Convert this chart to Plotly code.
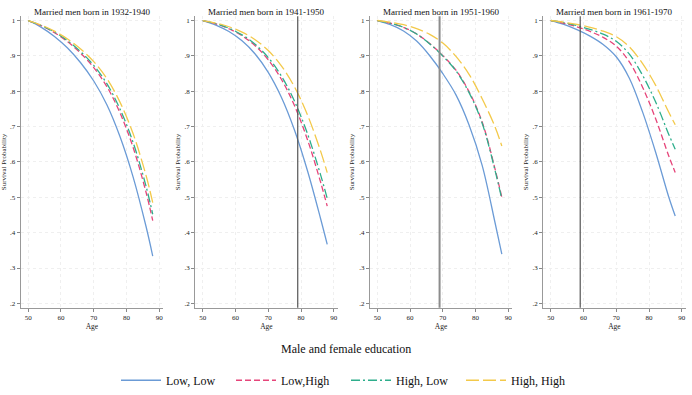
import plotly.graph_objects as go

ages = [50, 54, 58, 62, 66, 70, 74, 78, 82, 86, 88]
cohorts = ["1932-1940", "1941-1950", "1951-1960", "1961-1970"]
ref_ages = [None, 79, 69, 59]

series_names = ["Low, Low", "Low,High", "High, Low", "High, High"]
series_colors = ["#6b9bd6", "#e6457a", "#2eae8c", "#f3c94a"]
series_dash = ["solid", "6px,3px", "9px,3px,2px,3px", "13px,4px"]

low_low = [
    [1.0, 0.9806, 0.955, 0.9222, 0.8806, 0.829, 0.762, 0.672, 0.558, 0.416, 0.334],
    [1.0, 0.9872, 0.9688, 0.9425, 0.9053, 0.8535, 0.7831, 0.6904, 0.5744, 0.4388, 0.3671],
    [1.0, 0.9881, 0.9704, 0.9418, 0.9003, 0.8496, 0.7898, 0.7047, 0.5904, 0.4253, 0.3396],
    [1.0, 0.9891, 0.9743, 0.9560, 0.9324, 0.8976, 0.8369, 0.7423, 0.6282, 0.5016, 0.4471],
]
low_high = [
    [1.0, 0.9852, 0.9656, 0.9402, 0.9077, 0.8669, 0.8132, 0.7390, 0.6415, 0.5130, 0.4341],
    [1.0, 0.9905, 0.9767, 0.9569, 0.9287, 0.8890, 0.8339, 0.7594, 0.6623, 0.5422, 0.4750],
    [1.0, 0.9923, 0.9809, 0.9622, 0.9348, 0.9007, 0.8594, 0.7988, 0.7130, 0.5776, 0.4998],
    [1.0, 0.9923, 0.9821, 0.9691, 0.9523, 0.9274, 0.8832, 0.8122, 0.7228, 0.6178, 0.5701],
]
high_low = [
    [1.0, 0.9859, 0.9672, 0.9430, 0.9120, 0.8730, 0.8214, 0.7499, 0.6555, 0.5299, 0.4521],
    [1.0, 0.9911, 0.9781, 0.9595, 0.9329, 0.8953, 0.8431, 0.7722, 0.6791, 0.5627, 0.4969],
    [1.0, 0.9922, 0.9807, 0.9617, 0.9339, 0.8993, 0.8576, 0.7962, 0.7096, 0.5732, 0.4951],
    [1.0, 0.9938, 0.9855, 0.9750, 0.9615, 0.9411, 0.9048, 0.8458, 0.7700, 0.6786, 0.6361],
]
high_high = [
    [1.0, 0.9871, 0.9701, 0.9479, 0.9195, 0.8836, 0.8358, 0.7692, 0.6804, 0.5605, 0.4849],
    [1.0, 0.9928, 0.9824, 0.9673, 0.9457, 0.9150, 0.8718, 0.8124, 0.7326, 0.6299, 0.5700],
    [1.0, 0.9950, 0.9881, 0.9773, 0.9608, 0.9361, 0.8985, 0.8479, 0.7788, 0.6977, 0.6450],
    [1.0, 0.9952, 0.9888, 0.9807, 0.9701, 0.9542, 0.9256, 0.8787, 0.8173, 0.7412, 0.7051],
]
all_series = [low_low, low_high, high_low, high_high]

x_ticks = [50, 60, 70, 80, 90]
y_ticks = [0.2, 0.3, 0.4, 0.5, 0.6, 0.7, 0.8, 0.9, 1.0]
y_ticktext = [".2", ".3", ".4", ".5", ".6", ".7", ".8", ".9", "1"]

W, H = 692, 395
panel_left_px = [20.7, 195.2, 369.8, 543.2]
panel_w_px = 142.5
y_bottom_px, y_top_px = 310.0, 16.4
vline_styles = [None, dict(color="#555", width=1.2), dict(color="#8c8c8c", width=2), dict(color="#555", width=1.2)]

FONT = "Liberation Serif, Times New Roman, serif"

fig = go.Figure()
layout = dict(
    width=W, height=H,
    margin=dict(l=0, r=0, t=0, b=0),
    paper_bgcolor="white", plot_bgcolor="white",
    font=dict(family=FONT, color="#222"),
    showlegend=True,
    legend=dict(orientation="h", x=0.5, xanchor="center", y=0.03, yanchor="middle",
                font=dict(size=12, family=FONT, color="#111"),
                entrywidth=60, itemwidth=40, bgcolor="rgba(0,0,0,0)"),
)
annotations = []
shapes = []

for p in range(4):
    xa = "xaxis" if p == 0 else f"xaxis{p+1}"
    ya = "yaxis" if p == 0 else f"yaxis{p+1}"
    xr = "x" if p == 0 else f"x{p+1}"
    yr = "y" if p == 0 else f"y{p+1}"
    x0 = panel_left_px[p] / W
    x1 = (panel_left_px[p] + panel_w_px) / W
    layout[xa] = dict(
        domain=[x0, x1], range=[47.7, 91.2], anchor=yr,
        tickvals=x_ticks, ticks="outside", ticklen=3, tickcolor="#888",
        showline=True, linecolor="#999", linewidth=1,
        showgrid=True, gridcolor="#efefef", griddash="dot", gridwidth=1,
        zeroline=False, tickfont=dict(size=7, family=FONT, color="#222"),
        title=dict(text="Age", font=dict(size=7.5, family=FONT, color="#222"), standoff=2),
    )
    layout[ya] = dict(
        domain=[1 - y_bottom_px / H, 1 - y_top_px / H], range=[0.188, 1.012], anchor=xr,
        tickvals=y_ticks, ticktext=y_ticktext, ticks="outside", ticklen=3, tickcolor="#888",
        showline=True, linecolor="#999", linewidth=1,
        showgrid=True, gridcolor="#efefef", griddash="dot", gridwidth=1,
        zeroline=False, tickfont=dict(size=7, family=FONT, color="#222"),
        title=dict(text="Survival Probability", font=dict(size=7, family=FONT, color="#222"), standoff=3),
    )
    for s in range(4):
        fig.add_trace(go.Scatter(
            x=ages, y=all_series[s][p], mode="lines", name=series_names[s],
            line=dict(color=series_colors[s], dash=series_dash[s], width=1.3, shape="spline"),
            xaxis=xr, yaxis=yr, showlegend=(p == 0),
        ))
    annotations.append(dict(
        text=f"Married men born in {cohorts[p]}", x=(x0 + x1) / 2, y=1 - 12 / H,
        xref="paper", yref="paper", showarrow=False, xanchor="center", yanchor="middle",
        font=dict(size=9, family=FONT, color="#111"),
    ))
    if ref_ages[p] is not None:
        shapes.append(dict(type="line", xref=xr, yref=f"{yr} domain",
                           x0=ref_ages[p], x1=ref_ages[p], y0=0, y1=1,
                           line=vline_styles[p]))

annotations.append(dict(
    text="Male and female education", x=0.5, y=1 - 352 / H, xref="paper", yref="paper",
    showarrow=False, xanchor="center", yanchor="middle",
    font=dict(size=12, family=FONT, color="#111"),
))
layout["annotations"] = annotations
layout["shapes"] = shapes
fig.update_layout(**layout)
fig.write_html("out.html")
